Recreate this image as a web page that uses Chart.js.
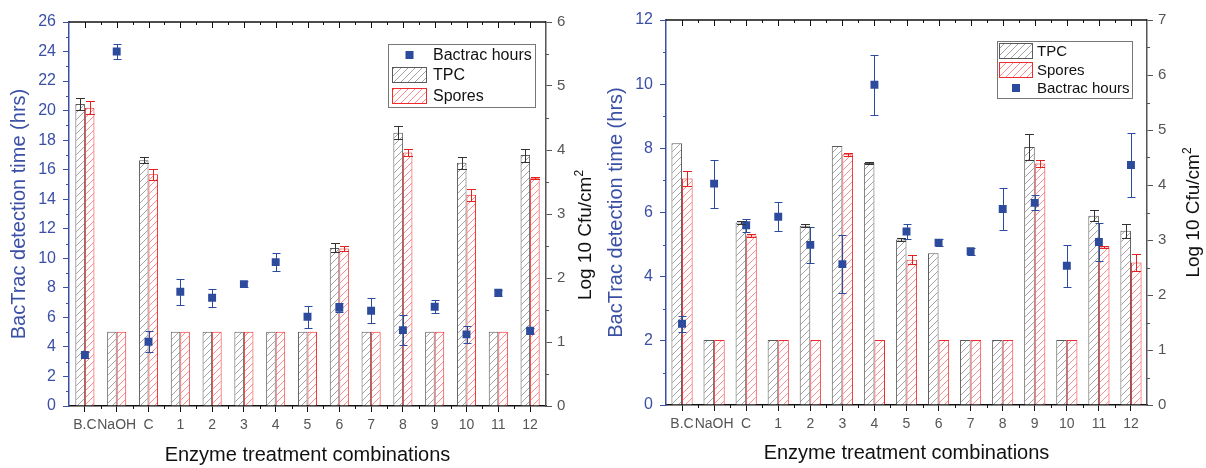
<!DOCTYPE html>
<html>
<head>
<meta charset="utf-8">
<script src="https://cdn.jsdelivr.net/npm/chart.js@4.4.1/dist/chart.umd.min.js"></script>
<style>
  html, body { margin: 0; padding: 0; background: #fff; }
  #wrap { position: relative; width: 1206px; height: 468px; overflow: hidden; }
  .panel { position: absolute; top: 0; height: 468px; }
  #panelA { left: 0; width: 600px; }
  #panelB { left: 600px; width: 606px; }
</style>
</head>
<body>
<div id="wrap">
  <div class="panel" id="panelA"><canvas id="chartA" width="600" height="468"></canvas></div>
  <div class="panel" id="panelB"><canvas id="chartB" width="606" height="468"></canvas></div>
</div>
<script>
const categories = ["B.C", "NaOH", "C", "1", "2", "3", "4", "5", "6", "7", "8", "9", "10", "11", "12"];

// left panel: Log 10 Cfu/cm2 (right axis), BacTrac hours (left axis)
const tpcA = [4.72, 1.16, 3.84, 1.16, 1.16, 1.16, 1.16, 1.16, 2.47, 1.16, 4.27, 1.16, 3.80, 1.16, 3.92];
const tpcErrA = [0.09, 0, 0.05, 0, 0, 0, 0, 0, 0.07, 0, 0.10, 0, 0.09, 0, 0.10];
const sporesA = [4.66, 1.16, 3.62, 1.16, 1.16, 1.16, 1.16, 1.16, 2.46, 1.16, 3.96, 1.16, 3.30, 1.16, 3.56];
const sporesErrA = [0.10, 0, 0.09, 0, 0, 0, 0, 0, 0.04, 0, 0.06, 0, 0.09, 0, 0.02];
const hoursA = [3.45, 24.0, 4.35, 7.73, 7.33, 8.25, 9.74, 6.04, 6.65, 6.45, 5.14, 6.72, 4.85, 7.67, 5.10];
const hoursErrA = [0.2, 0.5, 0.7, 0.9, 0.6, 0.2, 0.6, 0.75, 0.3, 0.85, 1.0, 0.45, 0.6, 0.2, 0.2];

// right panel
const tpcB = [4.76, 1.18, 3.32, 1.18, 3.26, 4.71, 4.40, 3.01, 2.76, 1.18, 1.18, 4.69, 1.18, 3.44, 3.17];
const tpcErrB = [0, 0, 0.03, 0, 0.03, 0, 0.01, 0.03, 0, 0, 0, 0.23, 0, 0.10, 0.13];
const sporesB = [4.12, 1.18, 3.08, 1.18, 1.18, 4.56, 1.18, 2.64, 1.18, 1.18, 1.18, 4.39, 1.18, 2.88, 2.59];
const sporesErrB = [0.14, 0, 0.03, 0, 0, 0.03, 0, 0.08, 0, 0, 0, 0.06, 0, 0.02, 0.15];
const hoursB = [2.53, 6.90, 5.60, 5.87, 4.99, 4.39, 9.98, 5.41, 5.06, 4.79, 6.11, 6.30, 4.34, 5.08, 7.48];
const hoursErrB = [0.25, 0.75, 0.2, 0.45, 0.55, 0.9, 0.93, 0.24, 0.1, 0.1, 0.64, 0.23, 0.65, 0.58, 0.99];

const FONT = "'Liberation Sans', Arial, sans-serif";
const BLUE = "#3b50a5";
const MARK = "#2c4b9c";
const GREY = "#555";
const INK = "#111";

function hatch(ctx, color) {
  const s = 7;
  const c = document.createElement("canvas");
  c.width = s;
  c.height = s;
  const g = c.getContext("2d");
  g.fillStyle = "#fff";
  g.fillRect(0, 0, s, s);
  g.strokeStyle = color;
  g.lineWidth = 0.8;
  g.beginPath();
  g.moveTo(0, s); g.lineTo(s, 0);
  g.moveTo(-1, 1); g.lineTo(1, -1);
  g.moveTo(s - 1, s + 1); g.lineTo(s + 1, s - 1);
  g.stroke();
  return ctx.createPattern(c, "repeat");
}

function vMinor(ctx, scale, step, len, dir, color) {
  const edge = dir < 0 ? scale.right : scale.left;
  ctx.strokeStyle = color;
  ctx.lineWidth = 1;
  ctx.beginPath();
  for (let v = scale.min + step; v < scale.max; v += 2 * step) {
    const y = Math.round(scale.getPixelForValue(v)) + 0.5;
    ctx.moveTo(edge, y);
    ctx.lineTo(edge + dir * len, y);
  }
  ctx.stroke();
}

const decor = {
  id: "decor",
  afterDatasetsDraw(chart) {
    const ctx = chart.ctx;
    chart.data.datasets.forEach((ds, i) => {
      if (!ds.errors) return;
      const meta = chart.getDatasetMeta(i);
      const yScale = chart.scales[ds.yAxisID];
      ctx.save();
      ctx.strokeStyle = ds.errorColor;
      ctx.lineWidth = 1;
      meta.data.forEach((el, j) => {
        const e = ds.errors[j];
        if (!e) return;
        const v = ds.data[j];
        const cx = Math.round(el.x) + 0.5;
        const y1 = Math.round(yScale.getPixelForValue(v + e)) + 0.5;
        const y2 = Math.round(yScale.getPixelForValue(v - e)) + 0.5;
        const w = ds.capWidth / 2;
        ctx.beginPath();
        ctx.moveTo(cx, y1); ctx.lineTo(cx, y2);
        ctx.moveTo(cx - w, y1); ctx.lineTo(cx + w, y1);
        ctx.moveTo(cx - w, y2); ctx.lineTo(cx + w, y2);
        ctx.stroke();
      });
      ctx.restore();
    });
  },
  afterDraw(chart, args, opts) {
    const ctx = chart.ctx;
    const { left, right, top, bottom } = chart.chartArea;
    const x = chart.scales.x;
    ctx.save();

    // top frame line with inward ticks, bottom minor ticks
    ctx.strokeStyle = INK;
    ctx.lineWidth = 1.5;
    ctx.beginPath();
    ctx.moveTo(left, top);
    ctx.lineTo(right, top);
    ctx.stroke();
    ctx.lineWidth = 1;
    ctx.beginPath();
    for (let i = 0; i < categories.length; i++) {
      const px = Math.round(x.getPixelForValue(i)) + 0.5;
      ctx.moveTo(px, top); ctx.lineTo(px, top + 6);
      if (i > 0) {
        const bx = Math.round(x.getPixelForValue(i - 0.5)) + 0.5;
        ctx.moveTo(bx, top); ctx.lineTo(bx, top + 3);
        ctx.moveTo(bx, bottom); ctx.lineTo(bx, bottom + 3);
      }
    }
    ctx.stroke();

    vMinor(ctx, chart.scales.y, opts.hoursMinor, 3, -1, BLUE);
    vMinor(ctx, chart.scales.y1, 0.5, 3, 1, GREY);

    // axis titles
    const midY = (top + bottom) / 2;
    ctx.textBaseline = "middle";
    ctx.textAlign = "center";
    ctx.font = `20px ${FONT}`;
    ctx.fillStyle = INK;
    ctx.fillText("Enzyme treatment combinations", (left + right) / 2, opts.xTitleY);

    ctx.save();
    ctx.translate(opts.leftTitleX, midY);
    ctx.rotate(-Math.PI / 2);
    ctx.fillStyle = BLUE;
    ctx.fillText("BacTrac detection time (hrs)", 0, 0);
    ctx.restore();

    ctx.save();
    ctx.translate(opts.rightTitleX, opts.rightTitleY || midY);
    ctx.rotate(-Math.PI / 2);
    ctx.font = `19px ${FONT}`;
    const main = "Log 10 Cfu/cm";
    const mw = ctx.measureText(main).width;
    ctx.font = `12px ${FONT}`;
    const sw = ctx.measureText("2").width;
    const start = -(mw + sw) / 2;
    ctx.textAlign = "left";
    ctx.fillStyle = INK;
    ctx.font = `19px ${FONT}`;
    ctx.fillText(main, start, 0);
    ctx.font = `12px ${FONT}`;
    ctx.fillText("2", start + mw, -6);
    ctx.restore();

    // legend
    const L = opts.legend;
    ctx.fillStyle = "#fff";
    ctx.fillRect(L.x, L.y, L.w, L.h);
    ctx.strokeStyle = "#777";
    ctx.lineWidth = 1;
    ctx.strokeRect(L.x + 0.5, L.y + 0.5, L.w, L.h);
    ctx.font = `${L.size}px ${FONT}`;
    ctx.textAlign = "left";
    L.rows.forEach((row) => {
      const ds = chart.data.datasets[row.ds];
      if (ds.type === "line") {
        ctx.fillStyle = MARK;
        ctx.fillRect(L.sx + L.sw / 2 - 4, row.y - 4, 8, 8);
      } else {
        ctx.fillStyle = ds.backgroundColor;
        ctx.fillRect(L.sx, row.y - 8, L.sw, 16);
        ctx.strokeStyle = ds.borderColor;
        ctx.strokeRect(L.sx + 0.5, row.y - 7.5, L.sw - 1, 15);
      }
      ctx.fillStyle = INK;
      ctx.fillText(ds.label, L.tx, row.y + 1);
    });

    ctx.restore();
  }
};

function buildChart(id, cfg) {
  const canvas = document.getElementById(id);
  const ctx = canvas.getContext("2d");
  const tpcFill = hatch(ctx, "#8c8c8c");
  const sporeFill = hatch(ctx, "#ff7070");

  return new Chart(ctx, {
    type: "bar",
    data: {
      labels: categories,
      datasets: [
        {
          type: "line",
          label: "Bactrac hours",
          data: cfg.hours,
          errors: cfg.hoursErr,
          errorColor: MARK,
          capWidth: 8,
          yAxisID: "y",
          showLine: false,
          pointStyle: "rect",
          pointRadius: 5.6,
          pointBackgroundColor: MARK,
          pointBorderColor: MARK,
          pointBorderWidth: 0,
          order: 0
        },
        {
          label: "TPC",
          data: cfg.tpc,
          errors: cfg.tpcErr,
          errorColor: "#333",
          capWidth: 9,
          yAxisID: "y1",
          backgroundColor: tpcFill,
          borderColor: "#5a5a5a",
          borderWidth: 1,
          order: 1
        },
        {
          label: "Spores",
          data: cfg.spores,
          errors: cfg.sporesErr,
          errorColor: "#e52020",
          capWidth: 9,
          yAxisID: "y1",
          backgroundColor: sporeFill,
          borderColor: "#ee2a2a",
          borderWidth: 1,
          order: 2
        }
      ]
    },
    options: {
      responsive: false,
      animation: false,
      events: [],
      layout: { padding: { left: 0, right: 0, top: cfg.top, bottom: 0 } },
      datasets: { bar: { categoryPercentage: cfg.catPct, barPercentage: 1 } },
      plugins: {
        legend: { display: false },
        tooltip: { enabled: false },
        decor: cfg.decor
      },
      scales: {
        x: {
          type: "category",
          offset: true,
          grid: { offset: false, drawOnChartArea: false, tickLength: 6, tickColor: INK, lineWidth: 1 },
          border: { color: INK, width: 1.5 },
          ticks: { color: GREY, font: { family: FONT, size: 14 }, padding: 5, autoSkip: false, maxRotation: 0 },
          afterFit(s) { s.height = cfg.xHeight; }
        },
        y: {
          position: "left",
          min: 0,
          max: cfg.hoursMax,
          ticks: { stepSize: 2, color: BLUE, font: { family: FONT, size: 16 }, padding: 7 },
          grid: { drawOnChartArea: false, tickLength: 6, tickColor: BLUE },
          border: { color: BLUE, width: 1.5 },
          afterFit(s) { s.width = cfg.leftWidth; }
        },
        y1: {
          position: "right",
          min: 0,
          max: cfg.logMax,
          ticks: { stepSize: 1, color: GREY, font: { family: FONT, size: 15 }, padding: 5 },
          grid: { drawOnChartArea: false, tickLength: 6, tickColor: GREY },
          border: { color: GREY, width: 1.5 },
          afterFit(s) { s.width = cfg.rightWidth; }
        }
      }
    },
    plugins: [decor]
  });
}

buildChart("chartA", {
  tpc: tpcA, tpcErr: tpcErrA, spores: sporesA, sporesErr: sporesErrA,
  hours: hoursA, hoursErr: hoursErrA,
  hoursMax: 26, logMax: 6,
  top: 22, xHeight: 62, leftWidth: 69, rightWidth: 54, catPct: 0.6,
  decor: {
    hoursMinor: 1,
    xTitleY: 455, leftTitleX: 19, rightTitleX: 586, rightTitleY: 235,
    legend: {
      x: 388, y: 44, w: 147, h: 63, size: 16, sx: 392, sw: 35, tx: 433,
      rows: [{ ds: 0, y: 55 }, { ds: 1, y: 75 }, { ds: 2, y: 96 }]
    }
  }
});

buildChart("chartB", {
  tpc: tpcB, tpcErr: tpcErrB, spores: sporesB, sporesErr: sporesErrB,
  hours: hoursB, hoursErr: hoursErrB,
  hoursMax: 12, logMax: 7,
  top: 20, xHeight: 63, leftWidth: 66, rightWidth: 59, catPct: 0.66,
  decor: {
    hoursMinor: 1,
    xTitleY: 453, leftTitleX: 16, rightTitleX: 594,
    legend: {
      x: 397, y: 41, w: 135, h: 57, size: 15, sx: 399, sw: 34, tx: 437,
      rows: [{ ds: 1, y: 51 }, { ds: 2, y: 70 }, { ds: 0, y: 88 }]
    }
  }
});
</script>
</body>
</html>
